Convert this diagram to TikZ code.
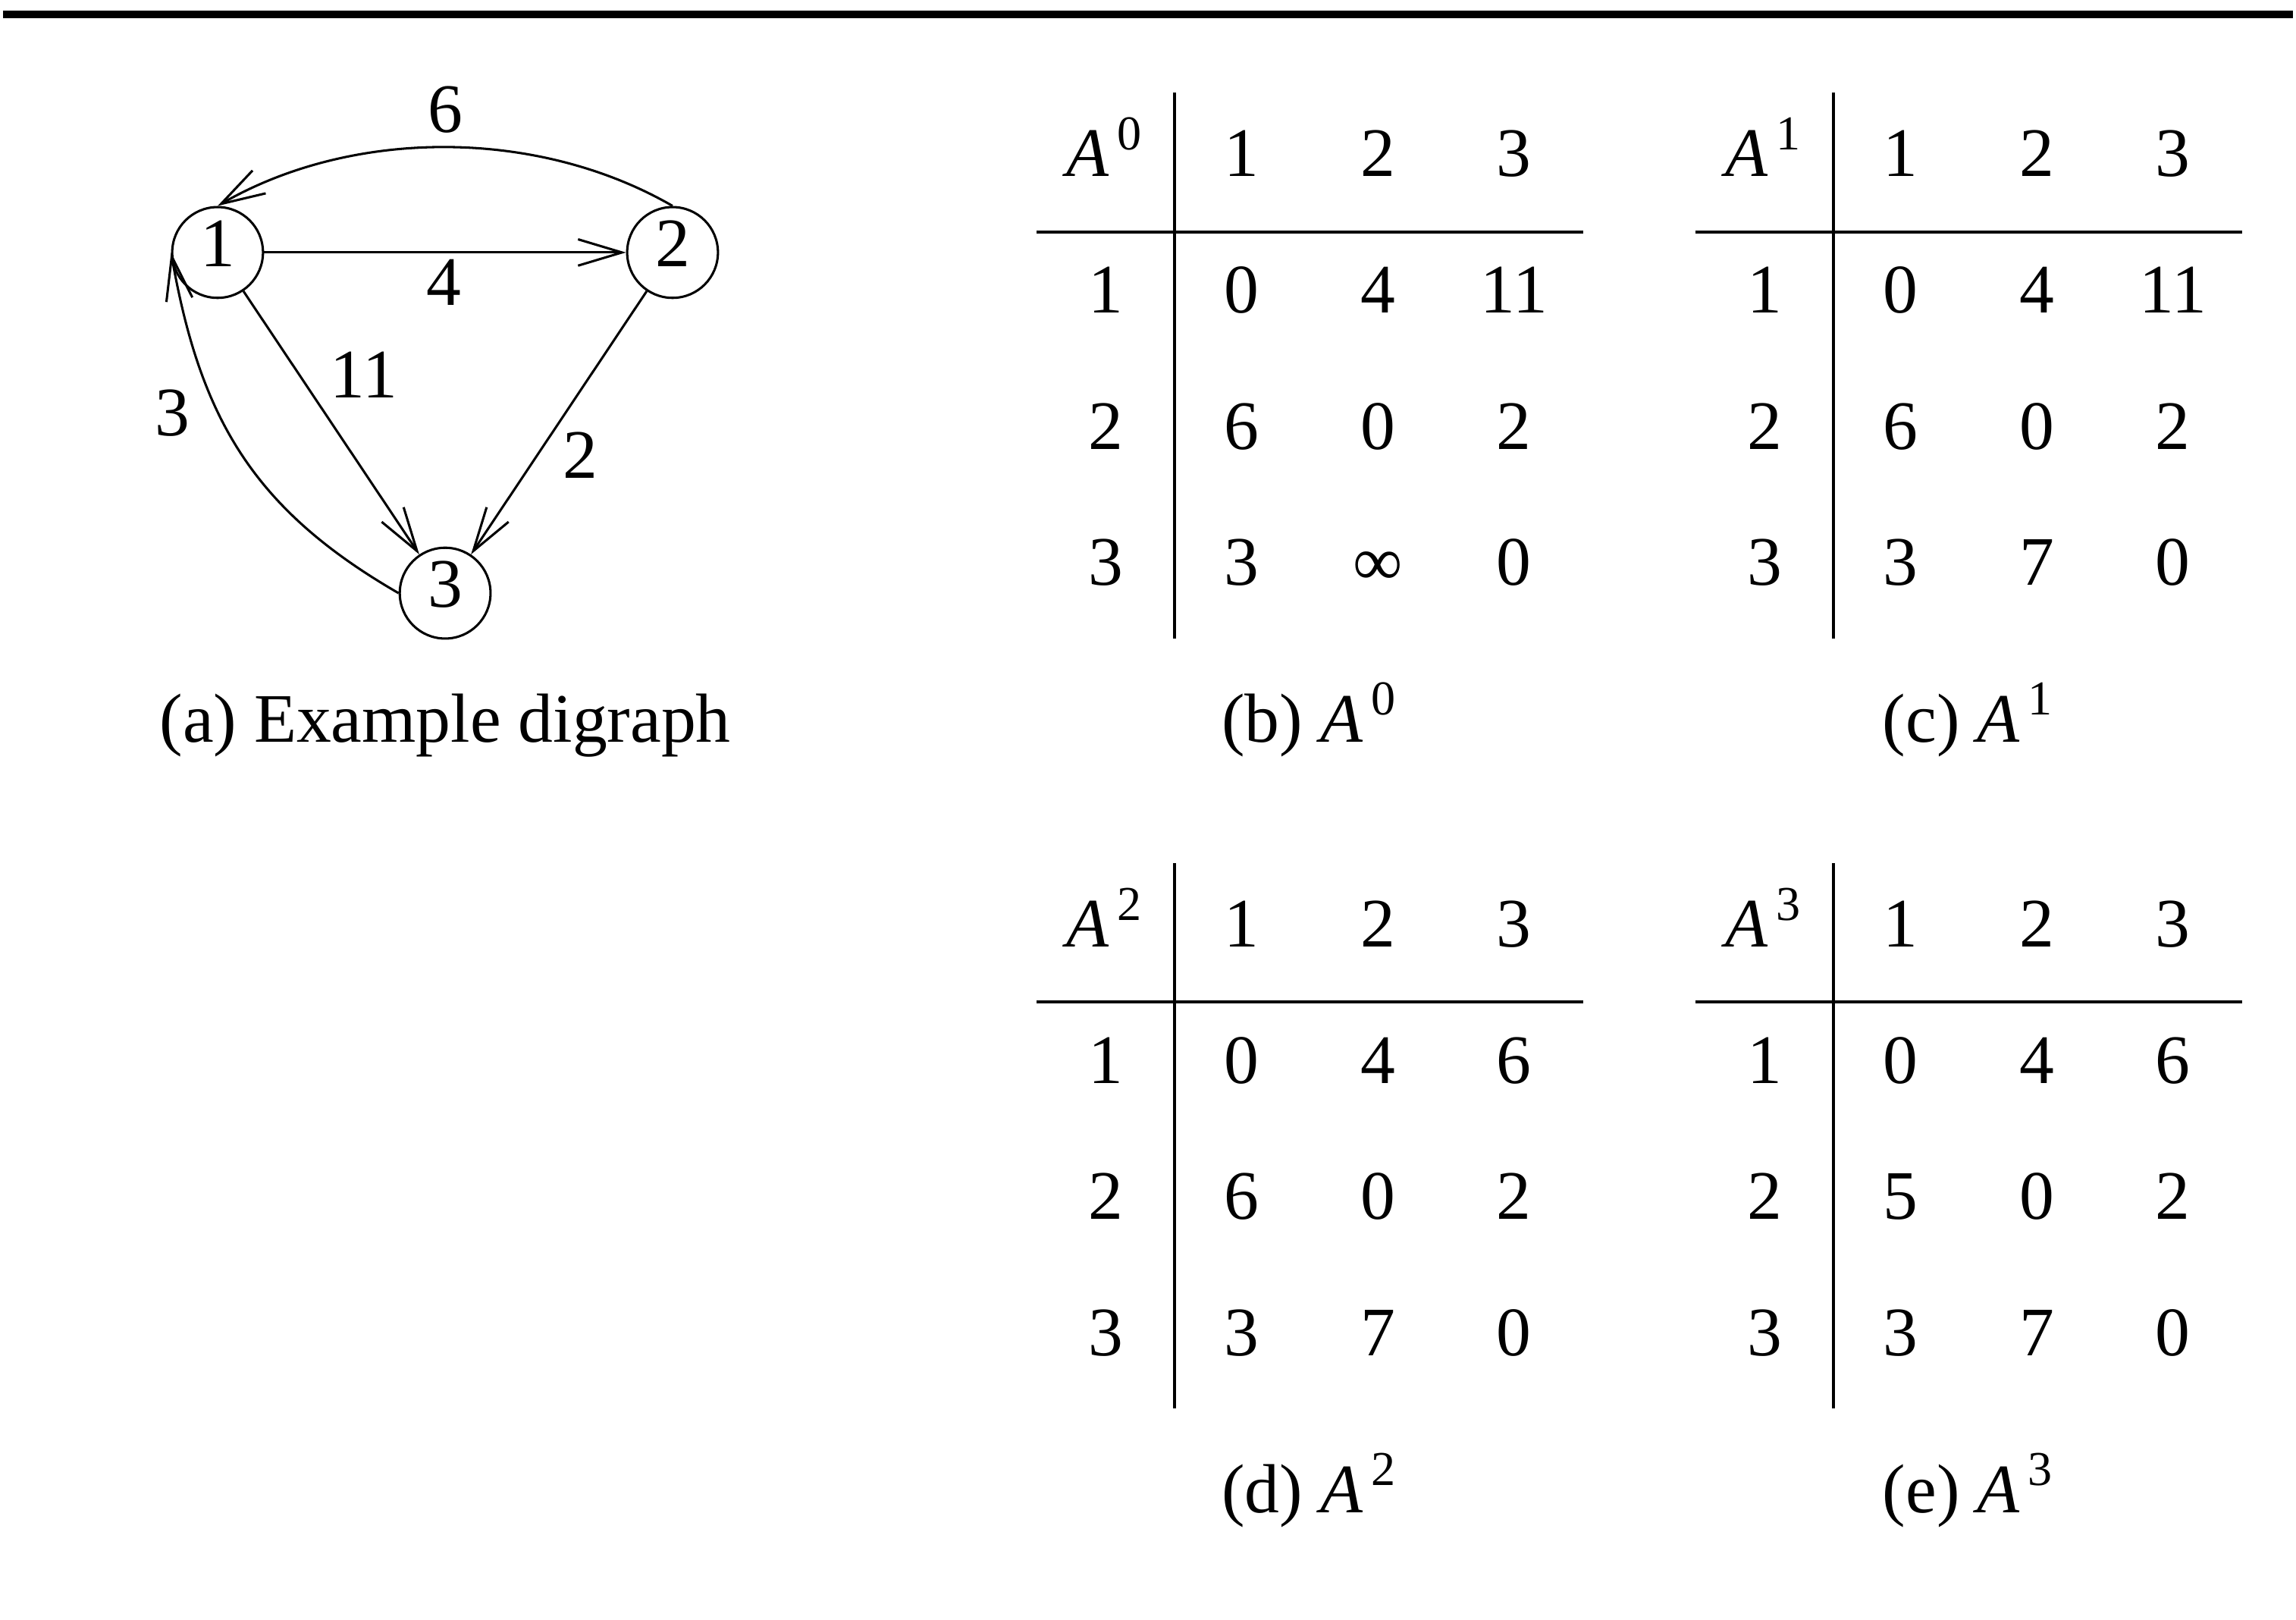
\documentclass[tikz,border=0pt]{standalone}
\usepackage{fontspec}
\setmainfont{Liberation Serif}
\usepackage{tikz}
\usetikzlibrary{arrows.meta,matrix,positioning}
\newcommand{\Apow}[1]{\textit{A}\textsuperscript{\,#1}}
\tikzset{
  vtx/.style={draw, circle, minimum size=0.62cm, inner sep=0pt, line width=0.45pt,
    text height=0.32cm, text depth=0.13cm},
  dedge/.style={line width=0.45pt, -{Straight Barb[length=0.3cm,width=0.18cm]}},
  wt/.style={inner sep=0pt},
  dtab/.style={matrix of nodes, inner sep=0pt, column sep=0pt, row sep=0pt,
    nodes={minimum width=0.93cm, minimum height=0.93cm, inner sep=0pt,
      anchor=center, text height=0.32cm, text depth=0pt}},
  tabrule/.style={line width=0.6pt},
  subcap/.style={anchor=base, inner sep=0pt},
}

\begin{document}
\begin{tikzpicture}[font=\fontsize{13.5}{16}\selectfont]
    \useasboundingbox (0,0) rectangle (15.68,11.06);
    \draw[line width=1.5pt] (0.02,10.96) -- (15.66,10.96);

    % (a) the digraph
    \node[vtx] (n1) at (1.486, 9.336) {1};
    \node[vtx] (n2) at (4.593, 9.336) {2};
    \node[vtx] (n3) at (3.04, 7.01) {3};

    \draw[dedge] (n1) -- (n2);
    \draw[dedge] (n1) -- (n3);
    \draw[dedge] (n2) -- (n3);
    \draw[dedge] (n2.north) to[out=150,in=30,looseness=0.88] (n1.north);
    \draw[dedge] (n3.west) to[out=150,in=-80,looseness=1.05] (n1.west);

    \node[wt] (w6) at (3.04, 10.31) {6};
    \node[wt] (w4) at (3.03, 9.13) {4};
    \node[wt] (w11) at (2.485, 8.50) {11};
    \node[wt] (w3) at (1.18, 8.24) {3};
    \node[wt] (w2) at (3.966, 7.95) {2};

    \node[subcap] (capa) at (3.04, 5.994) {(a) Example digraph};

    % (b)-(e) the distance matrices
    \matrix (tb) [dtab] at (8.945, 8.619) {
      \Apow{0} & 1 & 2 & 3 \\
      1 & 0 & 4 & 11 \\
      2 & 6 & 0 & 2 \\
      3 & 3 & ∞ & 0 \\
    };
    \matrix (tc) [dtab] at (13.445, 8.619) {
      \Apow{1} & 1 & 2 & 3 \\
      1 & 0 & 4 & 11 \\
      2 & 6 & 0 & 2 \\
      3 & 3 & 7 & 0 \\
    };
    \matrix (td) [dtab] at (8.945, 3.359) {
      \Apow{2} & 1 & 2 & 3 \\
      1 & 0 & 4 & 6 \\
      2 & 6 & 0 & 2 \\
      3 & 3 & 7 & 0 \\
    };
    \matrix (te) [dtab] at (13.445, 3.359) {
      \Apow{3} & 1 & 2 & 3 \\
      1 & 0 & 4 & 6 \\
      2 & 5 & 0 & 2 \\
      3 & 3 & 7 & 0 \\
    };

    \foreach \t in {tb,tc,td,te} {
      \draw[tabrule] ([yshift=-0.06cm]\t-1-1.north east) -- ([yshift=-0.05cm]\t-4-1.south east);
      \draw[tabrule] ([yshift=-0.065cm]\t-1-1.south west) -- ([yshift=-0.065cm]\t-1-4.south east);
    }

    \node[subcap] (capb) at (8.945, 5.994) {(b) \Apow{0}};
    \node[subcap] (capc) at (13.445, 5.994) {(c) \Apow{1}};
    \node[subcap] (capd) at (8.945, 0.734) {(d) \Apow{2}};
    \node[subcap] (cape) at (13.445, 0.734) {(e) \Apow{3}};
\end{tikzpicture}
\end{document}
